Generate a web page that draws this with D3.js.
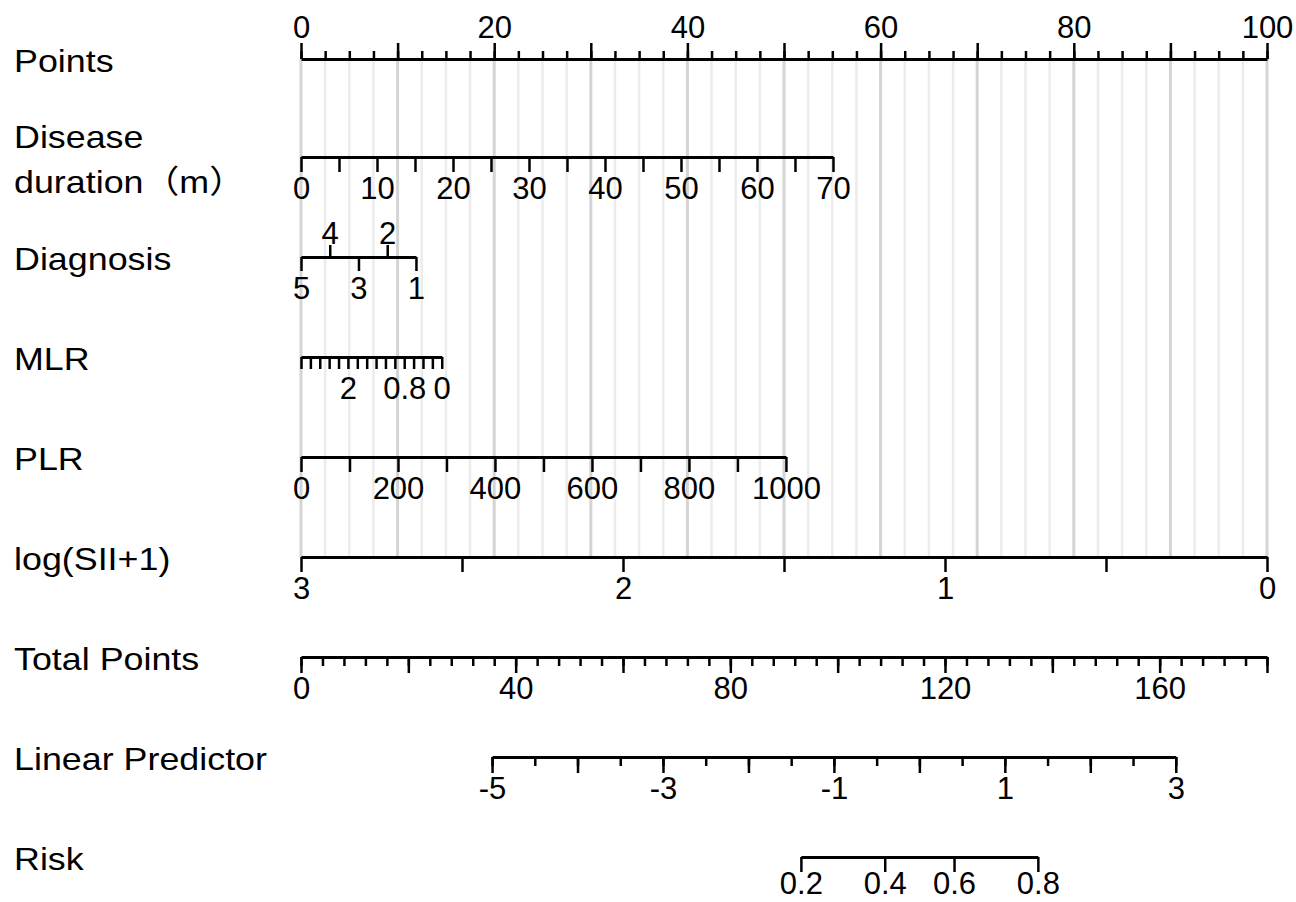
<!DOCTYPE html>
<meta charset="utf-8">
<style>
    body { margin: 0; background: #fff; }
    .axis path.domain { stroke: #000; stroke-width: 3px; }
    .axis line { stroke: #000; stroke-width: 2.5px; }
    .axis text {
        font-size: 31px;
        font-family: "Liberation Sans", Arial, sans-serif;
        fill: #000;
    }
    .rowlabel {
        font-size: 32px;
        font-family: "Liberation Sans", Arial, "Noto Sans CJK SC", sans-serif;
        fill: #000;
    }
    .grid { stroke-width: 2.5px; }
    .grid.major { stroke: #d4d4d4; stroke-width: 3px; }
    .grid.minor { stroke: #ececec; }
</style>
<body>
<script src="https://d3js.org/d3.v7.min.js"></script>
<script>
    // ---- data ----
    var pointsLabels = [0, 20, 40, 60, 80, 100];

    var durationRange = [0, 70];
    var durationPoints = [0, 55.07];
    var durationLabels = [0, 10, 20, 30, 40, 50, 60, 70];

    var diagnosisRange = [5, 1];
    var diagnosisPoints = [0, 11.9];
    var diagnosisBelow = [5, 3, 1];
    var diagnosisAbove = [4, 2];

    var mlrRange = [3, 0];
    var mlrPoints = [0, 14.57];
    var mlrLabels = [2, 0.8, 0];

    var plrRange = [0, 1000];
    var plrPoints = [0, 50.2];
    var plrLabels = [0, 200, 400, 600, 800, 1000];

    var siiRange = [3, 0];
    var siiPoints = [0, 100];
    var siiLabels = [3, 2, 1, 0];

    var totalRange = [0, 180];
    var totalLabels = [0, 40, 80, 120, 160];

    var lpRange = [-5, 3];
    var lpAtTotal = [35.6, 163];   // total points where LP = -5 and LP = 3
    var lpLabels = [-5, -3, -1, 1, 3];

    var riskLabels = [0.2, 0.4, 0.6, 0.8];

    var rowNames = [["Points"], ["Disease", "duration（m）"], ["Diagnosis"], ["MLR"], ["PLR"],
        ["log(SII+1)"], ["Total Points"], ["Linear Predictor"], ["Risk"]];

    // ---- layout ----
    var width = 1296, height = 902;
    var rowY = [59, 157, 257, 357, 457, 557, 657, 757, 857];
    var FS = 31;

    var svg = d3.select("body").append("svg")
        .attr("width", width)
        .attr("height", height);

    var x = d3.scaleLinear().domain([0, 100]).range([301, 1267]);

    function varScale(range, pts) {
        return d3.scaleLinear().domain(range).range(pts.map(x));
    }

    function labelFmt(labels) {
        return function(d) {
            var l = labels.find(function(v) { return Math.abs(v - d) < 1e-9; });
            return l === undefined ? "" : String(l);
        };
    }

    // axis below the line, label baseline `gap` px under it
    function bottomAxis(scale, y, ticks, labels, size, noDomain, gap) {
        gap = gap || 42;
        var g = svg.append("g")
            .attr("class", "axis")
            .attr("transform", "translate(0," + y + ")")
            .call(d3.axisBottom(scale)
                .tickValues(ticks)
                .tickSize(size)
                .tickSizeOuter(0)
                .tickPadding(gap - size - 0.71 * FS)
                .tickFormat(labels ? labelFmt(labels) : function() { return ""; }));
        if (noDomain) g.select(".domain").remove();
        return g;
    }

    function topAxis(scale, y, ticks, labels, size, pad, noDomain) {
        var g = svg.append("g")
            .attr("class", "axis")
            .attr("transform", "translate(0," + y + ")")
            .call(d3.axisTop(scale)
                .tickValues(ticks)
                .tickSize(size)
                .tickSizeOuter(0)
                .tickPadding(pad)
                .tickFormat(labels ? labelFmt(labels) : function() { return ""; }));
        if (noDomain) g.select(".domain").remove();
        return g;
    }

    // grid lines behind everything
    svg.append("g").selectAll("line")
        .data(d3.range(0, 100.001, 2.5))
        .enter().append("line")
        .attr("class", function(d) { return "grid " + (d % 10 === 0 ? "major" : "minor"); })
        .attr("x1", function(d) { return x(d); })
        .attr("x2", function(d) { return x(d); })
        .attr("y1", rowY[0])
        .attr("y2", rowY[5]);

    // Points
    topAxis(x, rowY[0], d3.range(0, 100.001, 2.5), null, 8, 0, true);
    topAxis(x, rowY[0], d3.range(0, 100.001, 10), pointsLabels, 16, 5, false);

    // Disease duration
    bottomAxis(varScale(durationRange, durationPoints), rowY[1], d3.range(0, 70.001, 5), durationLabels, 15);

    // Diagnosis
    var diagX = varScale(diagnosisRange, diagnosisPoints);
    bottomAxis(diagX, rowY[2], diagnosisBelow, diagnosisBelow, 14);
    topAxis(diagX, rowY[2], diagnosisAbove, diagnosisAbove, 12, 1, true);

    // MLR
    bottomAxis(varScale(mlrRange, mlrPoints), rowY[3], d3.range(0, 3.001, 0.2), mlrLabels, 12);

    // PLR
    bottomAxis(varScale(plrRange, plrPoints), rowY[4], d3.range(0, 1000.001, 100), plrLabels, 15);

    // log(SII+1)
    bottomAxis(varScale(siiRange, siiPoints), rowY[5], d3.range(0, 3.001, 0.5), siiLabels, 15);

    // Total Points
    var totalX = d3.scaleLinear().domain(totalRange).range([301, 1267]);
    bottomAxis(totalX, rowY[6], d3.range(0, 180.001, 4), null, 9, true);
    bottomAxis(totalX, rowY[6], d3.range(0, 180.001, 20), totalLabels, 16);

    // Linear Predictor
    var lpX = d3.scaleLinear().domain(lpRange).range(lpAtTotal.map(totalX));
    bottomAxis(lpX, rowY[7], d3.range(-5, 3.001, 0.5), null, 9, true);
    bottomAxis(lpX, rowY[7], d3.range(-5, 3.001, 1), lpLabels, 16);

    // Risk (positions through logit on the LP scale)
    function logit(p) { return Math.log(p / (1 - p)); }
    var riskLogits = riskLabels.map(logit);
    var riskX = d3.scaleLinear()
        .domain(d3.extent(riskLogits))
        .range(d3.extent(riskLogits).map(lpX));
    bottomAxis(riskX, rowY[8], riskLogits, null, 15, false, 37)
        .selectAll(".tick text")
        .text(function(d, i) { return String(riskLabels[i]); });

    // row labels
    rowNames.forEach(function(lines, i) {
        var base = lines.length === 1 ? [rowY[i] + 13] : [rowY[i] - 9, rowY[i] + 36];
        lines.forEach(function(t, j) {
            svg.append("text")
                .attr("class", "rowlabel")
                .attr("transform", "translate(14," + base[j] + ") scale(1.12,1)")
                .text(t);
        });
    });
</script>
</body>
